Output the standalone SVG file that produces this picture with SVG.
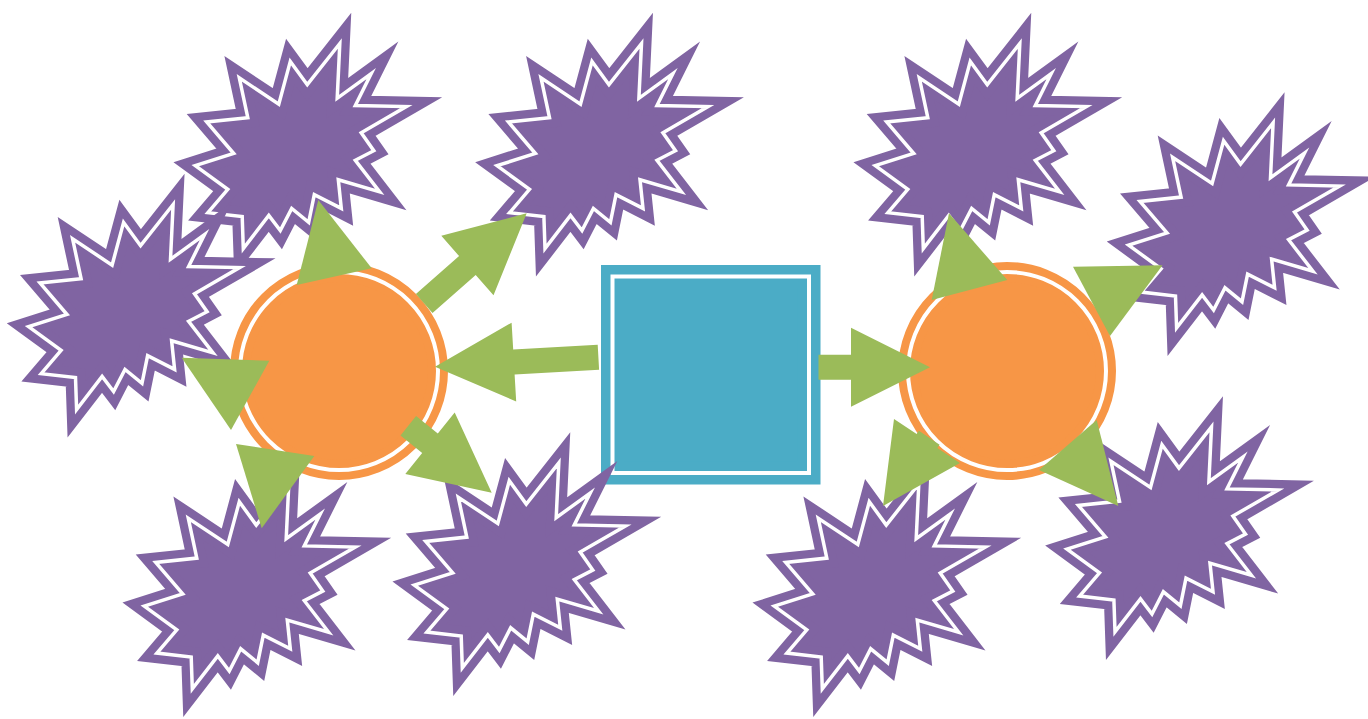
<svg xmlns="http://www.w3.org/2000/svg" xmlns:xlink="http://www.w3.org/1999/xlink" width="1368" height="719" viewBox="0 0 1368 719">
<style>
.so{fill:#8064A2;stroke:#8064A2;stroke-width:20;stroke-linejoin:miter;stroke-miterlimit:10}
.si{fill:none;stroke:#FFFFFF;stroke-width:3.5;stroke-linejoin:miter;stroke-miterlimit:10}
.co{fill:#F79646;stroke:#F79646;stroke-width:20}
.ci{fill:none;stroke:#FFFFFF;stroke-width:4}
.bo{fill:#4BACC6;stroke:#4BACC6;stroke-width:23;stroke-linejoin:miter}
.bi{fill:none;stroke:#FFFFFF;stroke-width:4;stroke-linejoin:miter}
.ar{fill:#9BBB59;stroke:none}
</style>
<defs>
<path id="sp" d="M112,41.2L95,17.9L83.5,60.6L44,34.4L52.5,74.2L11.4,78.5L38.4,110L0,122.2L32.5,145.9L12.6,169.2L46.9,173.1L48,205L73.5,172L85,187.1L96.4,164.9L113.4,178.8L119,151.2L146,164.9L143,136.2L184.4,148.4L160,116.8L178.5,107.2L165.9,89.2L211,63.1L160,62L175.9,30.1L141.9,54.8L144.5,0Z"/>
</defs>
<rect x="0" y="0" width="1368" height="719" fill="#FFFFFF"/>
<g id="star1" transform="translate(195.3,43.5)"><use href="#sp" class="so"/><use href="#sp" class="si"/></g>
<g id="star2" transform="translate(28.6,204.5)"><use href="#sp" class="so"/><use href="#sp" class="si"/></g>
<g id="star3" transform="translate(497,43.5)"><use href="#sp" class="so"/><use href="#sp" class="si"/></g>
<g id="star4" transform="translate(875.3,43.5)"><use href="#sp" class="so"/><use href="#sp" class="si"/></g>
<g id="star5" transform="translate(1128.6,122.9)"><use href="#sp" class="so"/><use href="#sp" class="si"/></g>
<g id="star6" transform="translate(144.3,483.9)"><use href="#sp" class="so"/><use href="#sp" class="si"/></g>
<g id="star8" transform="translate(774.3,483.9)"><use href="#sp" class="so"/><use href="#sp" class="si"/></g>
<g id="star9" transform="translate(1067,426.9)"><use href="#sp" class="so"/><use href="#sp" class="si"/></g>
<g id="square"><rect x="612.5" y="276.5" width="196.5" height="196.5" class="bo"/><rect x="612.5" y="276.5" width="196.5" height="196.5" class="bi"/></g>
<g id="star7" transform="translate(414.3,462.9)"><use href="#sp" class="so"/><use href="#sp" class="si"/></g>
<g id="circleLeft"><circle cx="339" cy="371" r="99" class="co"/><circle cx="339" cy="371" r="99" class="ci"/></g>
<g id="circleRight"><circle cx="1007" cy="371" r="99" class="co"/><circle cx="1007" cy="371" r="99" class="ci"/></g>
<g id="connectors">
<polygon class="ar" points="415.9,294.1 459.1,256.1 441.3,235.8 526.7,213.3 493.5,295.2 475.7,274.9 432.5,312.9"/>
<polygon class="ar" points="416.1,416.1 437.8,433.45 454.7,412.4 491.7,492.7 405.3,474 422.2,452.95 400.5,435.6"/>
<polygon class="ar" points="435,366.7 511.6,322.7 513.2,349.6 597.7,344.7 599.1,369.7 514.6,374.6 516.2,401.5"/>
<polygon class="ar" points="818.5,354.8 851,354.8 851,327.8 930,367.3 851,406.8 851,379.8 818.5,379.8"/>
<polygon class="ar" points="318.3,200 296.7,285 371.7,268.3"/>
<polygon class="ar" points="181.7,357.7 269.3,360.7 231,430"/>
<polygon class="ar" points="236,444 314.3,456 261.7,528.3"/>
<polygon class="ar" points="949,213.3 931.7,300 1007.3,280"/>
<polygon class="ar" points="1073,266.7 1162.5,265.3 1110,336"/>
<polygon class="ar" points="883,506 894,419 916.65,434 918.9,430.7 939.6,444.7 937.35,448 960,463"/>
<polygon class="ar" points="1096.7,420 1118.3,506 1039,470"/>
</g>
</svg>
